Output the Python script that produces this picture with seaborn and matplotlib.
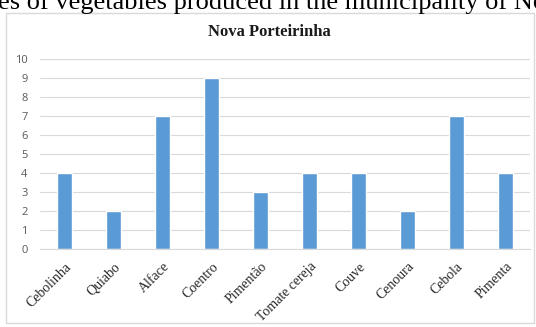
import matplotlib
matplotlib.use("Agg")
import matplotlib.pyplot as plt
import seaborn as sns
import pandas as pd
from matplotlib.patches import Rectangle

categories = ["Cebolinha", "Quiabo", "Alface", "Coentro", "Pimentão",
              "Tomate cereja", "Couve", "Cenoura", "Cebola", "Pimenta"]
values = [4, 2, 7, 9, 3, 4, 4, 2, 7, 4]
yticks = list(range(0, 11))

df = pd.DataFrame({"cat": categories, "val": values})

sns.set_theme(style="white")
W, H = 536, 327
fig = plt.figure(figsize=(W / 100, H / 100), dpi=100)

# chart border
fig.patches.append(Rectangle((6 / W, 1 - 323 / H), (534 - 6) / W, (323 - 13) / H,
                             transform=fig.transFigure, fill=False,
                             edgecolor="#d9d9d9", linewidth=1.0))

ax = fig.add_axes([40 / W, 1 - 249 / H, (530 - 40) / W, (249 - 59) / H])
sns.barplot(data=df, x="cat", y="val", color="#5B9BD5", width=0.31,
            saturation=1, ax=ax)
ax.set_ylim(0, 10)
ax.set_yticks(yticks)
ax.set_xlim(-0.5, len(categories) - 0.5)
ax.grid(axis="y", color="#d9d9d9", linewidth=0.8)
ax.set_axisbelow(True)
for s in ["top", "right", "left"]:
    ax.spines[s].set_visible(False)
ax.spines["bottom"].set_color("#d9d9d9")
ax.spines["bottom"].set_linewidth(0.8)
ax.set_xlabel("")
ax.set_ylabel("")
ax.tick_params(axis="y", length=0, pad=9, labelsize=8, labelcolor="#595959")
ax.tick_params(axis="x", length=0, pad=8)
ax.set_xticks(range(len(categories)))
ax.set_xticklabels(categories, rotation=45, ha="right", rotation_mode="anchor",
                   fontsize=10, family="Liberation Serif", color="#262626")
for lab in ax.get_yticklabels():
    lab.set_family("Open Sans")

fig.text(269 / W, 1 - 32 / H, "Nova Porteirinha", ha="center", va="center",
         fontsize=12, fontweight="bold", family="Liberation Serif", color="#1a1a1a")

# partially visible caption from the source document
fig.text(-2 / W, 1 - 9 / H, "es of vegetables produced in the municipality of No",
         ha="left", va="baseline", fontsize=19, family="Liberation Serif", color="black")

fig.savefig("out.png", dpi=100)
